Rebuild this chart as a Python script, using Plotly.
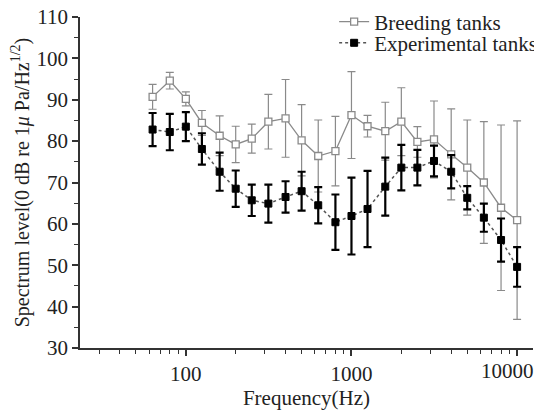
import plotly.graph_objects as go

freq = [63, 80, 100, 125, 160, 200, 250, 315, 400, 500, 630, 800, 1000,
        1250, 1600, 2000, 2500, 3150, 4000, 5000, 6300, 8000, 10000]

breeding = [90.7, 94.6, 90.2, 84.4, 81.3, 79.2, 80.6, 84.7, 85.5, 80.2, 76.4, 77.6, 86.3,
            83.6, 82.4, 84.7, 79.8, 80.4, 76.8, 73.6, 70.0, 63.9, 60.9]
breeding_err = [3.0, 2.0, 1.7, 3.0, 4.8, 4.4, 3.5, 6.6, 9.4, 8.6, 8.7, 8.4, 10.5,
                2.6, 7.0, 8.2, 3.7, 9.3, 11.0, 11.5, 14.7, 20.0, 24.0]

experimental = [82.8, 82.2, 83.5, 78.1, 72.6, 68.5, 65.7, 64.9, 66.5, 67.9, 64.5, 60.4, 61.9,
                63.6, 69.0, 73.6, 73.6, 75.2, 72.6, 66.3, 61.5, 56.1, 49.6]
experimental_err = [4.0, 4.4, 3.5, 3.8, 4.6, 4.4, 3.8, 4.6, 3.8, 4.7, 4.4, 6.7, 9.3,
                    9.2, 7.0, 5.5, 4.3, 3.7, 4.0, 2.8, 3.4, 5.2, 4.8]

x_tick_vals = [100, 1000, 10000]
x_tick_text = ["100", "1000", "10000"]
x_minor_vals = [m * d for d in (10, 100, 1000) for m in range(2, 10) if m * d >= 30]

font = "Liberation Serif, Times New Roman, serif"
fs = 21

fig = go.Figure()
fig.add_trace(go.Scatter(
    x=freq, y=breeding, name="Breeding tanks", mode="lines+markers", legend="legend",
    line=dict(color="#8a8a8a", width=1.3),
    marker=dict(symbol="square", size=7, color="white", line=dict(color="#8a8a8a", width=1.3)),
    error_y=dict(type="data", array=breeding_err, visible=True, color="#8a8a8a",
                 thickness=1.2, width=4),
))
fig.add_trace(go.Scatter(
    x=freq, y=experimental, name="Experimental tanks", mode="lines+markers", legend="legend2",
    line=dict(color="#555555", width=1.5, dash="dot"),
    marker=dict(symbol="square", size=7, color="black", line=dict(color="black", width=1)),
    error_y=dict(type="data", array=experimental_err, visible=True, color="black",
                 thickness=2.2, width=4),
))

# last tick label drawn slightly shifted left so it fits, as in the reference
fig.add_annotation(x=4.0, y=0, xref="x", yref="paper", text=x_tick_text[-1],
                   showarrow=False, yanchor="top", xshift=-10, yshift=-9,
                   font=dict(family=font, size=fs, color="#222"))

leg_common = dict(xanchor="left", yanchor="middle", bgcolor="rgba(0,0,0,0)",
                  font=dict(size=fs), itemwidth=30)

# page body has an 8px margin: figure is 8px smaller and margins reduced by 8
fig.update_layout(
    width=534, height=406,
    margin=dict(l=72, r=9, t=9, b=66, autoexpand=False),
    paper_bgcolor="white", plot_bgcolor="white",
    font=dict(family=font, size=fs, color="#222"),
    showlegend=True,
    legend=dict(x=0.561, y=0.985, **leg_common),
    legend2=dict(x=0.561, y=0.921, **leg_common),
    xaxis=dict(
        type="log", range=[1.361, 4.096],
        tickvals=x_tick_vals, ticktext=x_tick_text[:-1] + [""],
        ticks="outside", ticklen=6, tickwidth=1.5, tickcolor="#333",
        showline=True, linecolor="#333", linewidth=1.5,
        showgrid=False, zeroline=False,
        minor=dict(ticks="outside", ticklen=4, tickvals=x_minor_vals,
                   tickcolor="#333", tickwidth=1.2, showgrid=False),
        title=dict(text="Frequency(Hz)", font=dict(size=fs), standoff=4),
        tickfont=dict(size=fs),
    ),
    yaxis=dict(
        range=[30, 110], dtick=10,
        ticks="outside", ticklen=6, tickwidth=1.5, tickcolor="#333",
        showline=True, linecolor="#333", linewidth=1.5,
        showgrid=False, zeroline=False, ticklabeloverflow="allow",
        minor=dict(ticks="outside", ticklen=4, dtick=5, tickcolor="#333", tickwidth=1.2, showgrid=False),
        title=dict(text="Spectrum level(0 dB re 1<i>μ</i> Pa/Hz<sup>1/2</sup>)", font=dict(size=20), standoff=2),
        tickfont=dict(size=fs),
    ),
)

fig.write_html("out.html")
